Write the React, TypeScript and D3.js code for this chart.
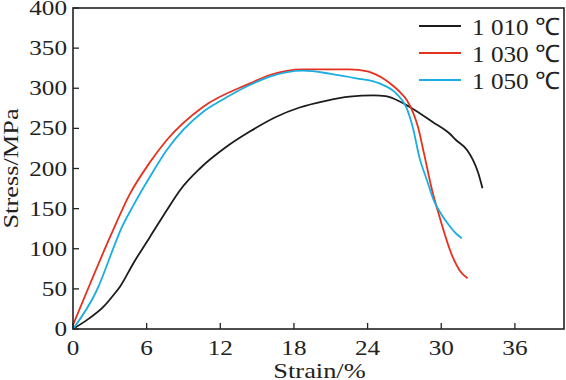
import React from "react";
import * as d3 from "d3";

const xTicks = [0, 6, 12, 18, 24, 30, 36];
const yTicks = [0, 50, 100, 150, 200, 250, 300, 350, 400];
const seriesNames = ["1 010 ℃", "1 030 ℃", "1 050 ℃"];
const seriesColors = ["#1c1c1c", "#e5321f", "#19ade2"];

const strain1010 = [0, 1.2, 2.49, 3.3, 3.84, 4.92, 6.28, 7.64, 8.72, 10.34, 12.5, 14.4, 16.57, 18.46, 20.5, 22.52, 24.5, 25.47, 26.05, 27.4, 29.3, 30.65, 31.2, 32.1, 32.6, 33.0, 33.36];
const stress1010 = [0, 12, 27.8, 42.4, 53, 82, 115, 148, 173, 200, 227, 246, 264.5, 276, 284, 289.5, 291, 290.3, 287.5, 277, 258, 243.9, 235.5, 223, 210, 195, 175.3];

const strain1030 = [0, 1.41, 3.03, 4.66, 6.28, 7.64, 10.61, 14.4, 16.03, 18.73, 22.52, 24.0, 24.7, 25.4, 26.0, 26.73, 27.2, 27.7, 28.1, 28.62, 29.3, 29.7, 30.92, 31.5, 32.14];
const stress1030 = [5, 57, 115, 169, 208, 235.5, 277, 306, 316.5, 323.6, 323.6, 321, 317, 311, 304, 293.7, 285, 270, 252, 217, 170, 148.3, 90.1, 73, 63.2];

const strain1050 = [0, 1.95, 3.44, 3.84, 4.92, 6.28, 7.64, 10.61, 12.1, 14.4, 16.03, 18.73, 21.0, 23.07, 24.96, 26.32, 27.13, 27.67, 28.25, 28.8, 29.4, 30.0, 30.65, 31.2, 31.68];
const stress1050 = [0, 48.6, 106.8, 122, 154, 190, 223, 270.8, 285, 304, 314.4, 321.9, 318, 312.4, 306, 293.7, 277, 252, 212, 187, 160, 143, 129, 119, 113];

const strains = [strain1010, strain1030, strain1050];
const stresses = [stress1010, stress1030, stress1050];

const W = 566;
const H = 380;
const left = 73;
const right = 564;
const top = 8;
const bottom = 329;
const FONT = "'Liberation Serif', 'Times New Roman', serif";
const SX = 1.2;

export default function App() {
  const x = d3.scaleLinear().domain([0, 40]).range([left, right]);
  const y = d3.scaleLinear().domain([0, 400]).range([bottom, top]);
  const line = d3
    .line<[number, number]>()
    .x((d) => x(d[0]))
    .y((d) => y(d[1]))
    .curve(d3.curveMonotoneX);

  return (
    <svg
      width={W}
      height={H}
      style={{ position: "absolute", left: 0, top: 0, background: "#fff" }}
    >
      <rect x={0} y={0} width={W} height={H} fill="#fff" />
      {strains.map((s, i) => (
        <path
          key={i}
          d={line(s.map((v, j) => [v, stresses[i][j]]) as [number, number][]) || ""}
          fill="none"
          stroke={seriesColors[i]}
          strokeWidth={1.8}
        />
      ))}
      <rect
        x={left}
        y={top}
        width={right - left}
        height={bottom - top}
        fill="none"
        stroke="#222"
        strokeWidth={1.6}
      />
      {xTicks.map((t) => (
        <g key={"x" + t}>
          <line x1={x(t)} x2={x(t)} y1={bottom} y2={bottom - 6} stroke="#222" strokeWidth={1.3} />
          <text
            transform={`translate(${x(t)},${bottom + 26}) scale(${SX},1)`}
            textAnchor="middle"
            fontFamily={FONT}
            fontSize={21}
            fill="#222"
          >
            {t}
          </text>
        </g>
      ))}
      {yTicks.map((t) => (
        <g key={"y" + t}>
          <line x1={left} x2={left + 6} y1={y(t)} y2={y(t)} stroke="#222" strokeWidth={1.3} />
          <text
            transform={`translate(${left - 6},${y(t) + 7}) scale(${SX},1)`}
            textAnchor="end"
            fontFamily={FONT}
            fontSize={21}
            fill="#222"
          >
            {t}
          </text>
        </g>
      ))}
      <text
        transform={`translate(${(left + right) / 2 + 1},${H - 2}) scale(${SX},1)`}
        textAnchor="middle"
        fontFamily={FONT}
        fontSize={22}
        fill="#222"
      >
        Strain/%
      </text>
      <text
        transform={`translate(18,${(top + bottom) / 2}) rotate(-90) scale(${SX},1)`}
        textAnchor="middle"
        fontFamily={FONT}
        fontSize={22}
        fill="#222"
      >
        Stress/MPa
      </text>
      {seriesNames.map((n, i) => (
        <g key={n}>
          <line
            x1={419}
            x2={461}
            y1={26 + i * 27}
            y2={26 + i * 27}
            stroke={seriesColors[i]}
            strokeWidth={2}
          />
          <text
            transform={`translate(472,${26 + i * 27 + 9}) scale(1.05,1)`}
            fontFamily={FONT}
            fontSize={24}
            fill="#222"
          >
            {n}
          </text>
        </g>
      ))}
    </svg>
  );
}
